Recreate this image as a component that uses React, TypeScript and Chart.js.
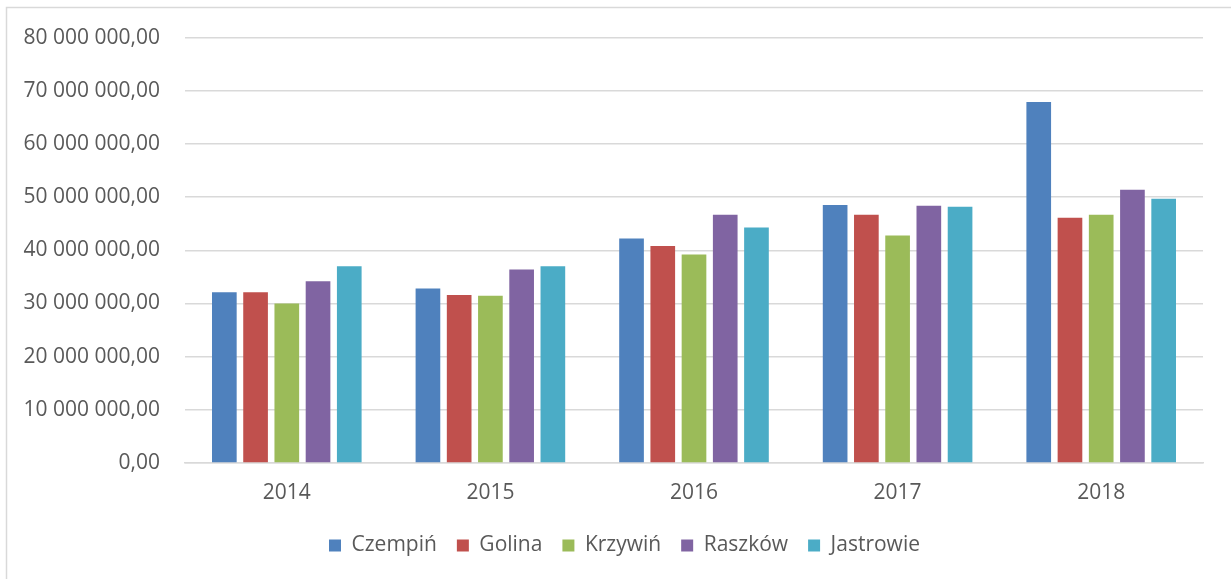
import React, { useEffect, useRef } from "react";
import { Chart, registerables } from "chart.js";

Chart.register(...registerables);

const years = ["2014", "2015", "2016", "2017", "2018"];
const czempin = [32100000, 32800000, 42200000, 48500000, 67900000];
const golina = [32100000, 31600000, 40800000, 46700000, 46100000];
const krzywin = [30000000, 31450000, 39200000, 42800000, 46700000];
const raszkow = [34200000, 36400000, 46700000, 48400000, 51400000];
const jastrowie = [37000000, 37000000, 44300000, 48200000, 49700000];
const seriesNames = ["Czempiń", "Golina", "Krzywiń", "Raszków", "Jastrowie"];
const seriesColors = ["#4f81bd", "#c0504d", "#9bbb59", "#8064a2", "#4bacc6"];

const FONT = "'Open Sans', 'Liberation Sans', sans-serif";
const TEXT = "#595959";
const GRID = "#d9d9d9";

function fmt(v: number): string {
  const fixed = Math.abs(v).toFixed(2);
  const [intPart, dec] = fixed.split(".");
  const withSpaces = intPart.replace(/\B(?=(\d{3})+(?!\d))/g, " ");
  return (v < 0 ? "-" : "") + withSpaces + "," + dec;
}

const borderPlugin = {
  id: "outerBorder",
  afterLayout(chart: any) {
    if (chart.legend) {
      chart.legend.left += 23;
      chart.legend.right += 23;
    }
  },
  beforeDraw(chart: any) {
    const ctx = chart.ctx;
    ctx.save();
    ctx.fillStyle = "#ffffff";
    ctx.fillRect(0, 0, chart.width, chart.height);
    ctx.strokeStyle = GRID;
    ctx.lineWidth = 1.5;
    ctx.beginPath();
    ctx.moveTo(6.5, chart.height + 2);
    ctx.lineTo(6.5, 7.5);
    ctx.lineTo(chart.width + 2, 7.5);
    ctx.stroke();
    ctx.restore();
  },
};

export default function App() {
  const ref = useRef<HTMLCanvasElement | null>(null);
  useEffect(() => {
    if (!ref.current) return;
    const all = [czempin, golina, krzywin, raszkow, jastrowie];
    const chart = new Chart(ref.current, {
      type: "bar",
      data: {
        labels: years,
        datasets: all.map((d, i) => ({
          label: seriesNames[i],
          data: d,
          backgroundColor: seriesColors[i],
          borderWidth: 0,
          categoryPercentage: 0.767,
          barPercentage: 0.79,
        })),
      },
      options: {
        responsive: false,
        animation: false,
        layout: { padding: { top: 37, right: 28, left: 0, bottom: 13 } },
        plugins: {
          tooltip: { enabled: false },
          legend: {
            position: "bottom",
            labels: {
              color: TEXT,
              font: { family: FONT, size: 21 },
              boxWidth: 12,
              boxHeight: 12,
              padding: 20,
            },
          },
        },
        scales: {
          x: {
            grid: { display: false, drawTicks: false },
            border: { color: GRID, width: 1.5 },
            ticks: { color: TEXT, font: { family: FONT, size: 21 }, padding: 17 },
            afterFit(scale: any) {
              scale.height = 52;
            },
          },
          y: {
            min: 0,
            max: 80000000,
            grid: { color: GRID, lineWidth: 1.5, drawTicks: false },
            border: { display: false },
            ticks: {
              stepSize: 10000000,
              color: TEXT,
              font: { family: FONT, size: 21 },
              padding: 25,
              callback: (v: any) => fmt(Number(v)),
            },
            afterFit(scale: any) {
              scale.width = 185;
            },
          },
        },
      },
      plugins: [borderPlugin],
    } as any);
    return () => chart.destroy();
  }, []);
  return (
    <div style={{ position: "absolute", left: 0, top: 0, width: 1231, height: 579 }}>
      <canvas ref={ref} width={1231} height={579} style={{ display: "block" }} />
    </div>
  );
}
